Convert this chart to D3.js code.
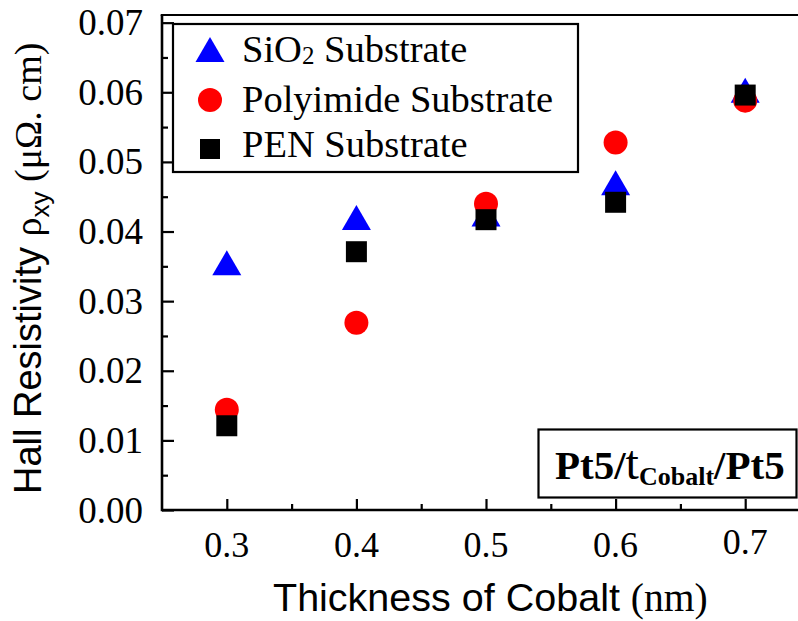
<!DOCTYPE html>
<html>
<head>
<meta charset="utf-8">
<script src="https://cdn.jsdelivr.net/npm/d3@7"></script>
<style>
  html, body { margin: 0; padding: 0; background: #fff; }
  svg { display: block; }
</style>
</head>
<body>
<svg id="chart" width="798" height="621"></svg>
<script>
// ---- data ----
const thickness = [0.3, 0.4, 0.5, 0.6, 0.7];
const sio2Values = [0.0355, 0.0420, 0.0425, 0.0470, 0.0603];
const polyimideValues = [0.0144, 0.0269, 0.0440, 0.0528, 0.0588];
const penValues = [0.0121, 0.0371, 0.0417, 0.0442, 0.0596];
const xTickValues = [0.3, 0.4, 0.5, 0.6, 0.7];
const yTickValues = [0, 0.01, 0.02, 0.03, 0.04, 0.05, 0.06, 0.07];
const seriesNames = ["SiO2 Substrate", "Polyimide Substrate", "PEN Substrate"];

const svg = d3.select("#chart");
const SERIF = "'Liberation Serif', 'Times New Roman', serif";
const SANS = "'Liberation Sans', Arial, sans-serif";

const x = d3.scaleLinear().domain([0.25, 0.75]).range([162, 810]);
const y = d3.scaleLinear().domain([0, 0.0711]).range([510, 15]);

// custom triangle centred on its bounding box
const triBox = {
  draw(ctx, size) {
    const w = 29, h = 25;
    ctx.moveTo(0, -h / 2);
    ctx.lineTo(w / 2, h / 2);
    ctx.lineTo(-w / 2, h / 2);
    ctx.closePath();
  }
};

// ---- axes ----
const axisG = svg.append("g");
axisG.append("line").attr("x1", x(0.25)).attr("x2", 800).attr("y1", y(0)).attr("y2", y(0))
  .attr("stroke", "#000").attr("stroke-width", 2.6);
axisG.append("line").attr("x1", x(0.25)).attr("x2", x(0.25)).attr("y1", y(0) + 1.3).attr("y2", y(0.0711))
  .attr("stroke", "#000").attr("stroke-width", 2.6);
axisG.append("line").attr("x1", x(0.25) - 1.3).attr("x2", 800).attr("y1", y(0.0711)).attr("y2", y(0.0711))
  .attr("stroke", "#000").attr("stroke-width", 2);

const xAxis = d3.axisTop(x).tickValues(xTickValues).tickSize(11).tickFormat("");
svg.append("g").attr("transform", `translate(0,${y(0)})`).call(xAxis)
  .call(g => g.select(".domain").remove())
  .call(g => g.selectAll("line").attr("stroke-width", 2.2));
const xMinor = d3.axisTop(x).tickValues([0.35, 0.45, 0.55, 0.65, 0.75]).tickSize(6).tickFormat("");
svg.append("g").attr("transform", `translate(0,${y(0)})`).call(xMinor)
  .call(g => g.select(".domain").remove())
  .call(g => g.selectAll("line").attr("stroke-width", 2.2));

const yAxis = d3.axisRight(y).tickValues(yTickValues).tickSize(12).tickFormat("");
svg.append("g").attr("transform", `translate(${x(0.25)},0)`).call(yAxis)
  .call(g => g.select(".domain").remove())
  .call(g => g.selectAll("line").attr("stroke-width", 2.2));
const yMinor = d3.axisRight(y).tickValues([0.005, 0.015, 0.025, 0.035, 0.045, 0.055, 0.065]).tickSize(6).tickFormat("");
svg.append("g").attr("transform", `translate(${x(0.25)},0)`).call(yMinor)
  .call(g => g.select(".domain").remove())
  .call(g => g.selectAll("line").attr("stroke-width", 2.2));

// tick labels
svg.append("g").selectAll("text").data(xTickValues).join("text")
  .attr("x", d => x(d)).attr("y", d => d === 0.7 ? 554 : 557)
  .attr("text-anchor", "middle")
  .style("font-family", SERIF).style("font-size", "36px")
  .text(d => d3.format(".1f")(d));

svg.append("g").selectAll("text").data(yTickValues).join("text")
  .attr("x", 143).attr("y", d => y(d) + 12.5)
  .attr("text-anchor", "end")
  .style("font-family", SERIF).style("font-size", "37px")
  .text(d => d3.format(".2f")(d));

// axis titles
const xt = svg.append("text").attr("x", 273).attr("y", 611).style("font-size", "39.5px");
xt.append("tspan").style("font-family", SANS).text("Thickness of Cobalt ");
xt.append("tspan").style("font-family", SERIF).text("(nm)");

const yt = svg.append("text").attr("transform", "translate(41,494) rotate(-90)").style("font-size", "38px");
yt.append("tspan").style("font-family", SANS).text("Hall Resistivity ");
yt.append("tspan").style("font-family", SERIF).text("ρ");
yt.append("tspan").style("font-family", SANS).style("font-size", "26px").attr("dy", 8).text("xy");
yt.append("tspan").style("font-family", SERIF).attr("dy", -8).text(" (μΩ. cm)");

// ---- data points ----
const tri = d3.symbol().type(triBox);
const circ = d3.symbol().type(d3.symbolCircle).size(Math.PI * 12 * 12);
const sq = d3.symbol().type(d3.symbolSquare).size(21 * 21);

svg.append("g").selectAll("path").data(thickness.map((t, i) => [t, sio2Values[i]])).join("path")
  .attr("d", tri).attr("fill", "#0000ff")
  .attr("transform", d => `translate(${x(d[0])},${y(d[1])})`);
svg.append("g").selectAll("path").data(thickness.map((t, i) => [t, polyimideValues[i]])).join("path")
  .attr("d", circ).attr("fill", "#ff0000")
  .attr("transform", d => `translate(${x(d[0])},${y(d[1])})`);
svg.append("g").selectAll("path").data(thickness.map((t, i) => [t, penValues[i]])).join("path")
  .attr("d", sq).attr("fill", "#000")
  .attr("transform", d => `translate(${x(d[0])},${y(d[1])})`);

// ---- legend ----
const lg = svg.append("g");
lg.append("rect").attr("x", 173).attr("y", 24).attr("width", 405).attr("height", 148)
  .attr("fill", "#fff").attr("stroke", "#000").attr("stroke-width", 2.2);
lg.append("path").attr("d", tri).attr("fill", "#0000ff").attr("transform", "translate(210,49.5)");
lg.append("path").attr("d", circ).attr("fill", "#ff0000").attr("transform", "translate(210,100)");
lg.append("path").attr("d", d3.symbol().type(d3.symbolSquare).size(400)).attr("fill", "#000").attr("transform", "translate(210,149)");

const l1 = lg.append("text").attr("x", 242).attr("y", 62).style("font-family", SERIF).style("font-size", "38.5px");
l1.append("tspan").text("SiO");
l1.append("tspan").style("font-size", "25px").attr("dy", 2).text("2");
l1.append("tspan").attr("dy", -2).text(" Substrate");
lg.append("text").attr("x", 242).attr("y", 112).style("font-family", SERIF).style("font-size", "38.5px").text(seriesNames[1]);
lg.append("text").attr("x", 242).attr("y", 157).style("font-family", SERIF).style("font-size", "38.5px").text(seriesNames[2]);

// ---- annotation box ----
const ann = svg.append("g");
ann.append("rect").attr("x", 538.5).attr("y", 429.5).attr("width", 258).attr("height", 68)
  .attr("fill", "#fff").attr("stroke", "#000").attr("stroke-width", 2.2);
const at = ann.append("text").attr("x", 555).attr("y", 479).style("font-family", SERIF).style("font-size", "41px");
at.append("tspan").style("font-weight", "bold").text("Pt5/");
at.append("tspan").style("font-size", "48px").text("t");
at.append("tspan").style("font-weight", "bold").style("font-size", "26px").attr("dy", 6).text("Cobalt");
at.append("tspan").style("font-weight", "bold").attr("dy", -6).text("/Pt5");
</script>
</body>
</html>
